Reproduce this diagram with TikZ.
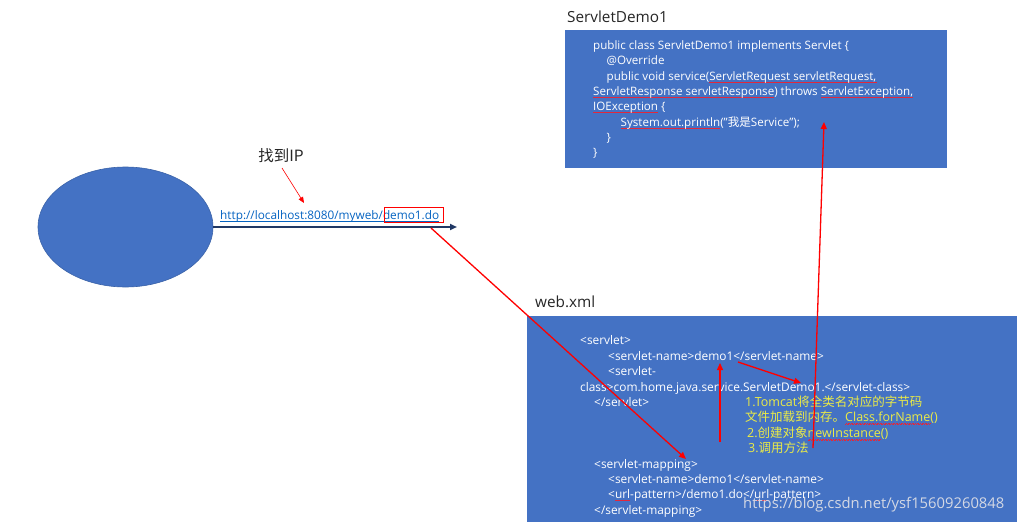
\documentclass[tikz,border=0pt]{standalone}
\usepackage{fontspec}
\setmainfont{Open Sans}
\newfontfamily\cjk{Noto Sans CJK SC}
\usetikzlibrary{arrows.meta,shapes.geometric}
\definecolor{pptblue}{HTML}{4472C4}
\definecolor{ellborder}{HTML}{3A62A8}
\definecolor{navy}{HTML}{203864}
\definecolor{linkblue}{HTML}{0563C1}
\definecolor{hl}{RGB}{235,235,70}
\definecolor{wm}{RGB}{212,216,228}
\definecolor{squig}{RGB}{225,40,60}
\newsavebox\sqbox
\newcommand\sqw[1]{\sbox\sqbox{#1}\rlap{\raisebox{-2.6pt}{\textcolor{squig}{\hbox to \wd\sqbox{\xleaders\hbox{\rule[0pt]{0.8pt}{0.35pt}\rule[0.45pt]{0.8pt}{0.35pt}}\hfill}}}}\usebox\sqbox}
\newcommand\blueul[1]{\sbox\sqbox{#1}\rlap{\raisebox{-2.2pt}{\textcolor{linkblue}{\rule{\wd\sqbox}{0.7pt}}}}\usebox\sqbox}
\begin{document}
\begin{tikzpicture}[x=1pt,y=-1pt,
  panel/.style={fill=pptblue, draw=none, anchor=north west, inner sep=0pt},
  code/.style={anchor=base west, inner sep=0pt, text=white, font=\fontsize{11.6}{12}\selectfont},
  xml/.style={anchor=base west, inner sep=0pt, text=white, font=\fontsize{11.9}{12}\selectfont},
  note/.style={anchor=base west, inner sep=0pt, text=hl, font=\fontsize{12.5}{13}\selectfont},
  title/.style={anchor=base west, inner sep=0pt, text=black!85, font=\fontsize{15.3}{16}\selectfont},
  redarrow/.style={draw=red, line width=1.3pt, -{Triangle[length=7pt,width=6pt]}},
  thinred/.style={draw=red, line width=0.6pt, -{Triangle[length=6pt,width=5pt]}}
]
\useasboundingbox (0,0) rectangle (1017,522);

% client ellipse
\node[ellipse, fill=pptblue, draw=ellborder, line width=0.6pt, minimum width=175pt, minimum height=120pt, inner sep=0pt] (client) at (125.5,227) {};

% URL
\node[anchor=base west, inner sep=0pt, text=linkblue, font=\fontsize{11.8}{12}\selectfont] (url) at (220,219.5) {\blueul{http://localhost:8080/myweb/demo1.do}};
\node[draw=red, line width=1.2pt, minimum width=59pt, minimum height=15pt, inner sep=0pt] (hlbox) at (414,215) {};
\coordinate (urlend) at (457,227);
\draw[navy, line width=1.8pt, -{Triangle[length=7pt,width=6pt]}] (client.east) -- (urlend);

% find IP
\node[inner sep=0pt, font=\cjk\fontsize{15.5}{16}\selectfont, text=black!85] (findip) at (281,155.5) {找到IP};
\coordinate (ipstart) at (282,168);
\coordinate (iptip) at (304,203);
\draw[thinred] (ipstart) -- (iptip);

% ServletDemo1 panel
\node[title] (t1) at (567,22.5) {ServletDemo1};
\node[panel, minimum width=382pt, minimum height=138pt] (codebox) at (565,30) {};
\node[code] (c1) at (593,49) {public class ServletDemo1 implements Servlet \{};
\node[code] (c2) at (606.5,64.5) {@Override};
\node[code] (c3) at (606.5,80) {public void service(\sqw{ServletRequest servletRequest,}};
\node[code] (c4) at (593,95) {\sqw{ServletResponse servletResponse}) throws \sqw{ServletException,}};
\node[code] (c5) at (593,110) {\sqw{IOException} \{};
\node[code] (c6) at (620.5,126) {\sqw{System.out.println}("{\cjk 我是}Service");};
\node[code] (c7) at (606.5,141) {\}};
\node[code] (c8) at (593,156) {\}};

% web.xml panel
\node[title] (t2) at (535,307.5) {web.xml};
\node[panel, minimum width=490pt, minimum height=206pt] (xmlbox) at (527,316) {};
\node[xml] (x1) at (580,344.5) {<servlet>};
\node[xml] (x2) at (608,360) {<servlet-name>demo1</servlet-name>};
\node[xml] (x3) at (608,375.5) {<servlet-};
\node[xml] (x4) at (580,391) {class>com.home.java.service.ServletDemo1.</servlet-class>};
\node[xml] (x5) at (594,406) {</servlet>};
\node[xml] (x6) at (594,468) {<servlet-mapping>};
\node[xml] (x7) at (608,483) {<servlet-name>demo1</servlet-name>};
\node[xml] (x8) at (608,498) {<\sqw{url}-pattern>/demo1.do</\sqw{url}-pattern>};
\node[xml] (x9) at (594,514) {</servlet-mapping>};

% yellow notes
\node[note] (n1) at (745,406) {1.Tomcat{\cjk 将全类名对应的字节码}};
\node[note] (n2) at (745,421.5) {{\cjk 文件加载到内存。}\sqw{Class.forName}()};
\node[note] (n3) at (747,437.5) {2.{\cjk 创建对象}\sqw{newInstance}()};
\node[note] (n4) at (748,452.5) {3.{\cjk 调用方法}};

% watermark
\node[anchor=base west, inner sep=0pt, text=wm, font=\fontsize{14.8}{16}\selectfont] (wmk) at (743,508) {https://blog.csdn.net/ysf15609260848};

% red connectors
\coordinate (a1s) at (431,228);
\coordinate (a1e) at (686,459);
\draw[redarrow] (a1s) -- (a1e);
\coordinate (a2s) at (720,442);
\coordinate (a2e) at (720,363);
\draw[redarrow] (a2s) -- (a2e);
\coordinate (a3s) at (738,362);
\coordinate (a3e) at (801,383);
\draw[redarrow] (a3s) -- (a3e);
\coordinate (a4s) at (813,448);
\coordinate (a4e) at (824,122);
\draw[redarrow] (a4s) -- (a4e);
\end{tikzpicture}
\end{document}
